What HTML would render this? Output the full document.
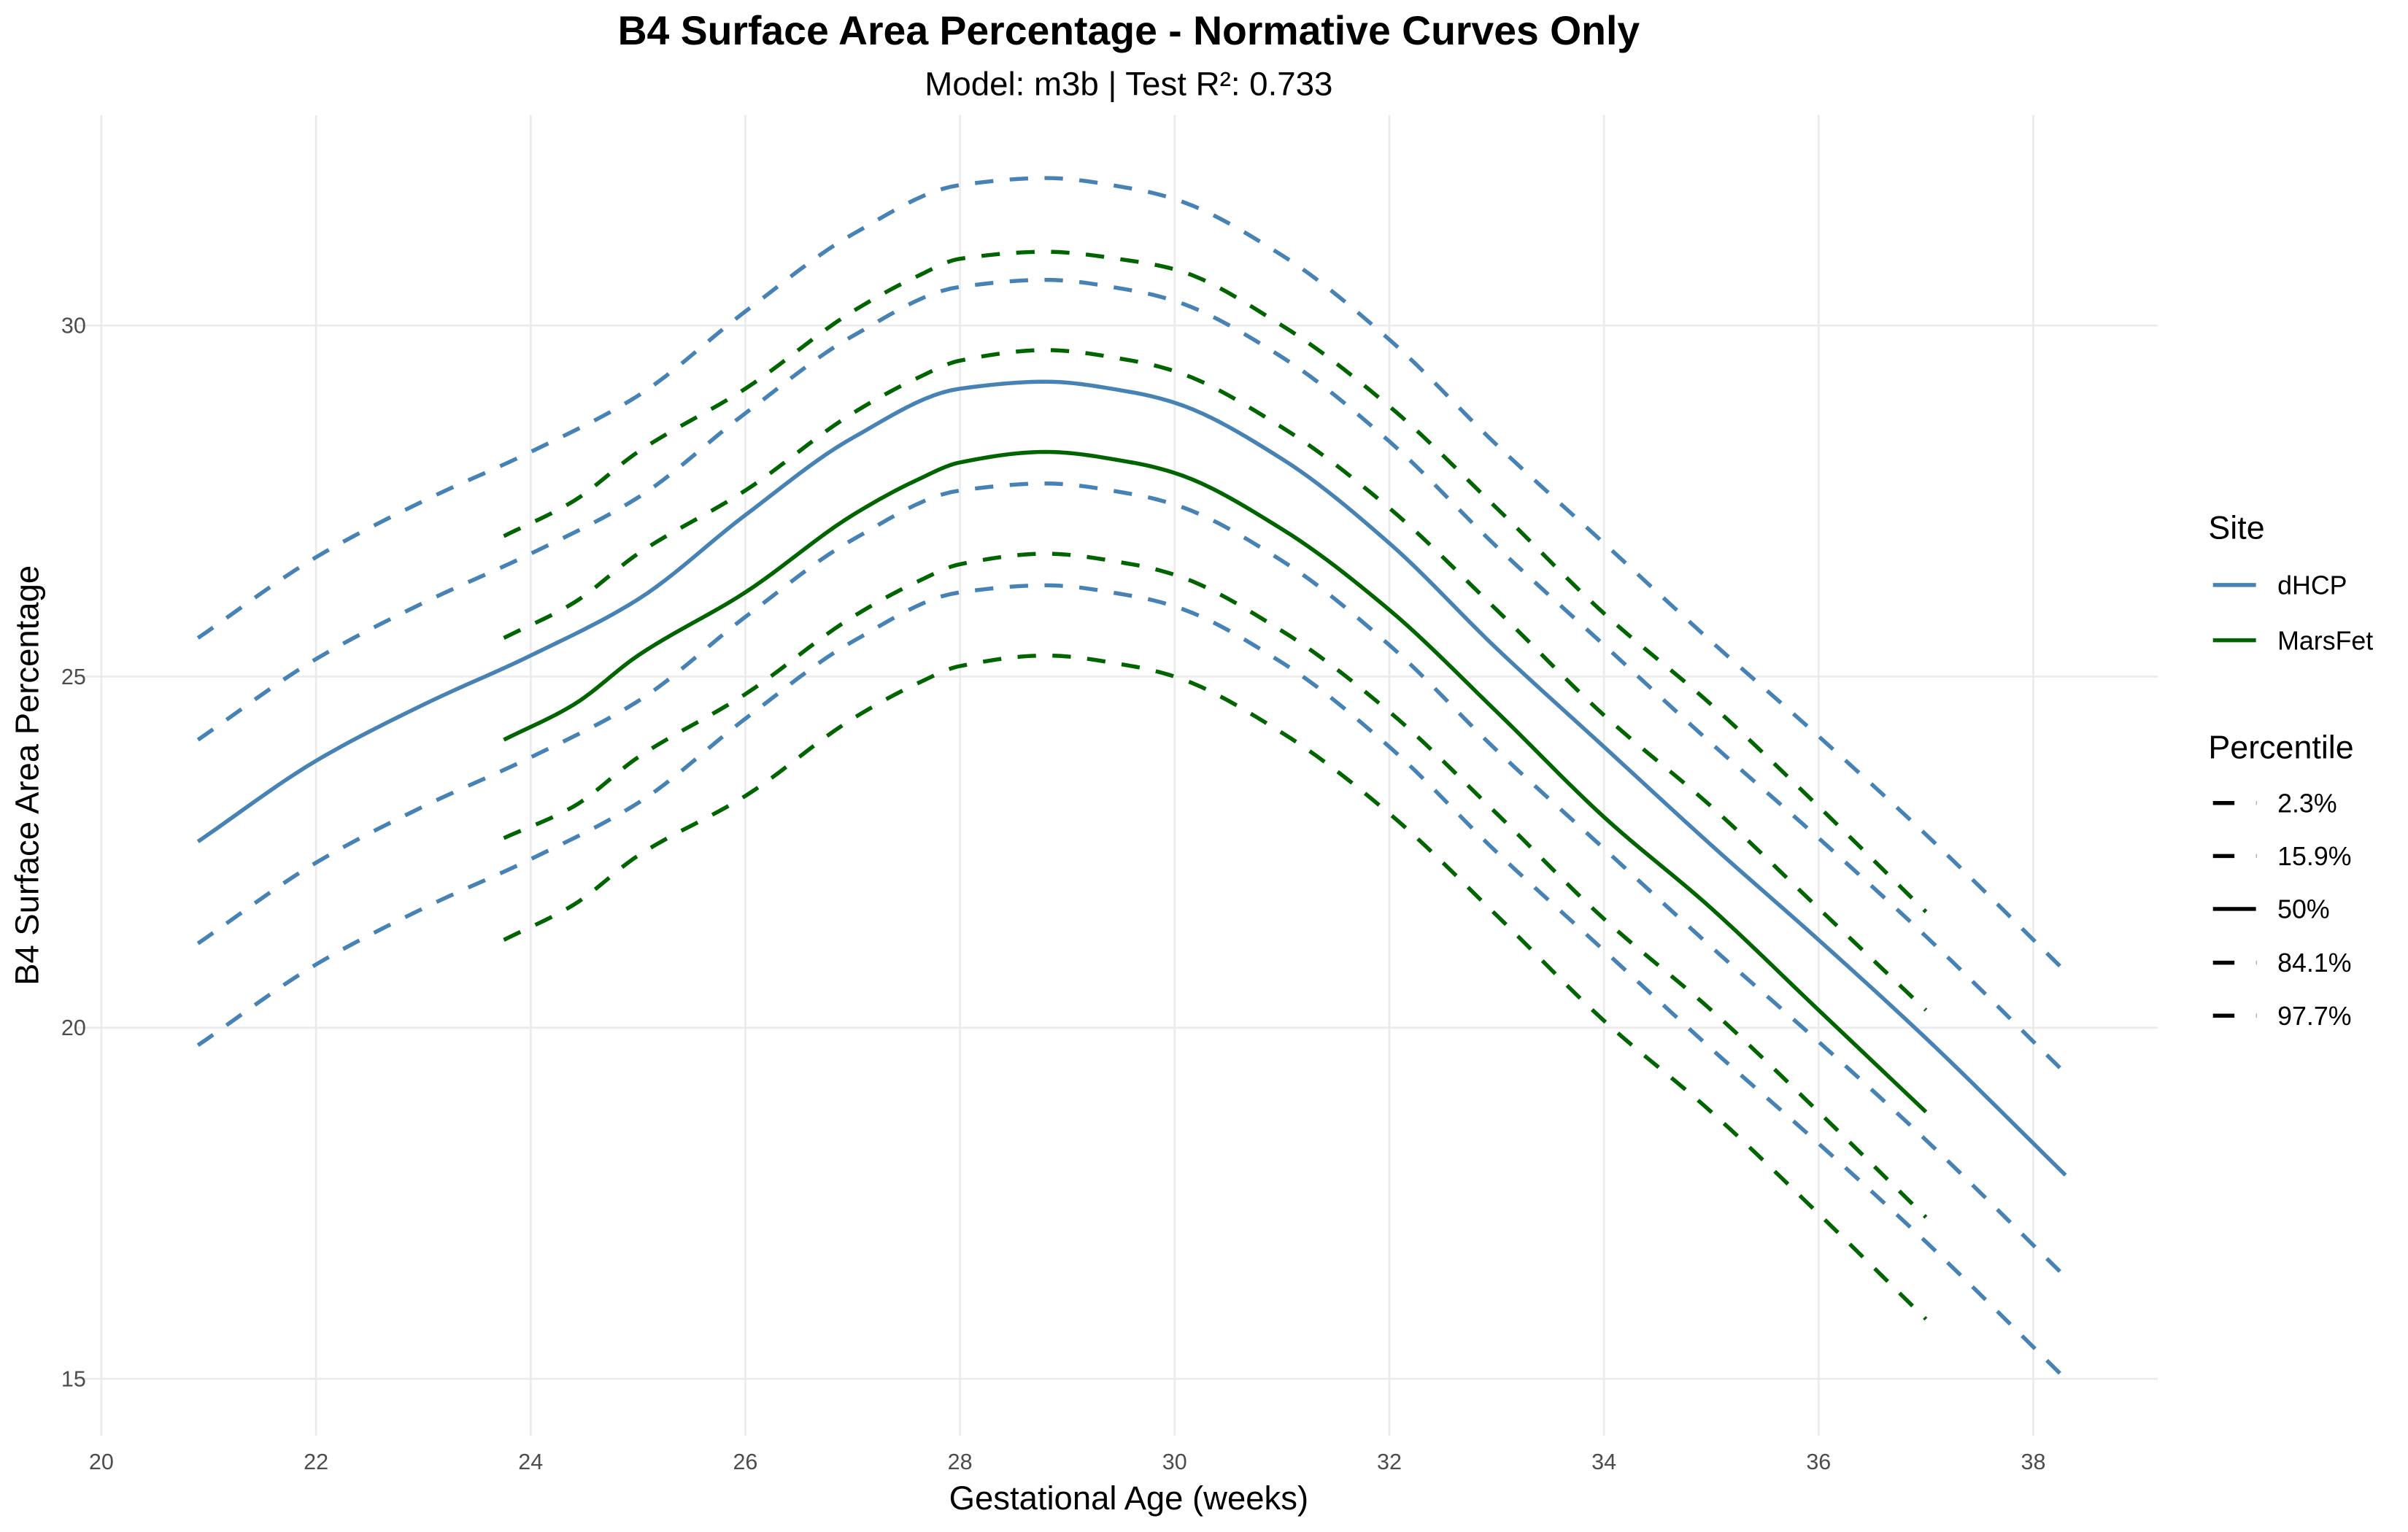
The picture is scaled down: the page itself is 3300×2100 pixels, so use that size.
<!DOCTYPE html>
<html><head><meta charset="utf-8"><style>
html,body{margin:0;padding:0;background:#fff;}
svg{display:block;font-family:"Liberation Sans",sans-serif;}
</style></head><body>
<svg id="chart" width="3300" height="2100" viewBox="0 0 1568 997.8" preserveAspectRatio="none" xmlns="http://www.w3.org/2000/svg">
<rect width="1568" height="997.8" fill="#fff"/>
<g id="grid"></g>
<g id="series"></g>
<g id="axes"></g>
<text x="735" y="29" text-anchor="middle" font-size="26.3" font-weight="bold">B4 Surface Area Percentage - Normative Curves Only</text>
<text x="735" y="62" text-anchor="middle" font-size="21.7">Model: m3b | Test R²: 0.733</text>
<text x="735" y="983" text-anchor="middle" font-size="21.6">Gestational Age (weeks)</text>
<text transform="translate(25,505) rotate(-90)" text-anchor="middle" font-size="21.6">B4 Surface Area Percentage</text>
<g id="legend" font-size="17">
<text x="1438" y="351" font-size="21.3">Site</text>
<g><line x1="1441" x2="1469" y1="381" y2="381" stroke="#4682B4" stroke-width="2.6"/><text x="1483" y="387">dHCP</text></g>
<g><line x1="1441" x2="1469" y1="417" y2="417" stroke="#006400" stroke-width="2.6"/><text x="1483" y="423">MarsFet</text></g>
<text x="1438" y="494" font-size="21.3">Percentile</text>
<g><line x1="1441" x2="1455" y1="523" y2="523" stroke="#000" stroke-width="2.6"/><line x1="1469" x2="1469.6" y1="523" y2="523" stroke="#aaa" stroke-width="2.6"/><text x="1483" y="529">2.3%</text></g>
<g><line x1="1441" x2="1455" y1="557.5" y2="557.5" stroke="#000" stroke-width="2.6"/><line x1="1469" x2="1469.6" y1="557.5" y2="557.5" stroke="#aaa" stroke-width="2.6"/><text x="1483" y="563.5">15.9%</text></g>
<g><line x1="1441" x2="1469" y1="592" y2="592" stroke="#000" stroke-width="2.6"/><text x="1483" y="598">50%</text></g>
<g><line x1="1441" x2="1455" y1="627" y2="627" stroke="#000" stroke-width="2.6"/><line x1="1469" x2="1469.6" y1="627" y2="627" stroke="#aaa" stroke-width="2.6"/><text x="1483" y="633">84.1%</text></g>
<g><line x1="1441" x2="1455" y1="661.5" y2="661.5" stroke="#000" stroke-width="2.6"/><line x1="1469" x2="1469.6" y1="661.5" y2="661.5" stroke="#aaa" stroke-width="2.6"/><text x="1483" y="667.5">97.7%</text></g>
</g>
</svg>
<script>
const xTicks = [20,22,24,26,28,30,32,34,36,38];
const yTicks = [15,20,25,30];
const dhcpAge = [20.9,22,23,24,25,26,27,28,28.8,29.6,30,31,32,33,34,35,36,37,38.3];
const dhcpP50 = [22.65,23.8,24.6,25.3,26.1,27.3,28.4,29.1,29.2,29.05,28.9,28.1,26.9,25.4,24.0,22.6,21.25,19.85,17.9];
const dhcpP841 = [24.1,25.25,26.05,26.75,27.55,28.75,29.85,30.55,30.65,30.5,30.35,29.55,28.35,26.85,25.45,24.05,22.7,21.3,19.35];
const dhcpP977 = [25.55,26.7,27.5,28.2,29.0,30.2,31.3,32.0,32.1,31.95,31.8,31.0,29.8,28.3,26.9,25.5,24.15,22.75,20.8];
const dhcpP159 = [21.2,22.35,23.15,23.85,24.65,25.85,26.95,27.65,27.75,27.6,27.45,26.65,25.45,23.95,22.55,21.15,19.8,18.4,16.45];
const dhcpP23 = [19.75,20.9,21.7,22.4,23.2,24.4,25.5,26.2,26.3,26.15,26.0,25.2,24.0,22.5,21.1,19.7,18.35,16.95,15.0];
const marsAge = [23.75,24.4,25,26,27,27.6,28,28.8,29.6,30,31,32,33,34,35,36,37];
const marsP50 = [24.1,24.6,25.3,26.2,27.3,27.8,28.05,28.2,28.05,27.9,27.1,25.95,24.5,23.0,21.7,20.25,18.8];
const marsP841 = [25.55,26.05,26.75,27.65,28.75,29.25,29.5,29.65,29.5,29.35,28.55,27.4,25.95,24.45,23.15,21.7,20.25];
const marsP977 = [27.0,27.5,28.2,29.1,30.2,30.7,30.95,31.05,30.92,30.8,30.0,28.85,27.4,25.9,24.6,23.15,21.65];
const marsP159 = [22.7,23.15,23.85,24.75,25.85,26.35,26.6,26.75,26.6,26.45,25.65,24.5,23.05,21.55,20.25,18.8,17.3];
const marsP23 = [21.25,21.75,22.45,23.3,24.4,24.9,25.15,25.3,25.15,25.0,24.2,23.05,21.6,20.1,18.8,17.35,15.85];

const NS='http://www.w3.org/2000/svg';
const X0=50, X1=1405, Y0=75, Y1=935;
function xs(v){return 66+(v-20)*(1324-66)/18;}
function ys(v){return 898-(v-15)*(898-212)/15;}
function mk(tag,attrs,parent){const e=document.createElementNS(NS,tag);for(const k in attrs)e.setAttribute(k,attrs[k]);parent.appendChild(e);return e;}
const grid=document.getElementById('grid'), axes=document.getElementById('axes'), series=document.getElementById('series');
xTicks.forEach(t=>{
  const l=mk('line',{x1:xs(t),x2:xs(t),y1:Y0,y2:Y1,stroke:'#ebebeb','stroke-width':1.3},grid);
  
  
  const tx=mk('text',{x:xs(t),y:957,'text-anchor':'middle','font-size':14.5,fill:'#4d4d4d'},axes);
  tx.textContent=t;
  
  
});
yTicks.forEach(t=>{
  const l=mk('line',{x1:X0,x2:X1,y1:ys(t),y2:ys(t),stroke:'#ebebeb','stroke-width':1.3},grid);
  
  
  const tx=mk('text',{x:56,y:ys(t)+5,'text-anchor':'end','font-size':14.5,fill:'#4d4d4d'},axes);
  tx.textContent=t;
  
  
});
function pathD(ax,vals){
  const n=ax.length, d=[], m=new Array(n);
  for(let i=0;i<n-1;i++)d.push((vals[i+1]-vals[i])/(ax[i+1]-ax[i]));
  m[0]=d[0]; m[n-1]=d[n-2];
  for(let i=1;i<n-1;i++){
    if(d[i-1]*d[i]<=0)m[i]=0;
    else{const h0=ax[i]-ax[i-1],h1=ax[i+1]-ax[i];const w1=2*h1+h0,w2=h1+2*h0;m[i]=(w1+w2)/(w1/d[i-1]+w2/d[i]);}
  }
  let s='M'+xs(ax[0])+','+ys(vals[0]);
  for(let i=0;i<n-1;i++){
    const h=ax[i+1]-ax[i];
    for(let k=1;k<=12;k++){
      const t=k/12,t2=t*t,t3=t2*t;
      const v=(2*t3-3*t2+1)*vals[i]+(t3-2*t2+t)*h*m[i]+(-2*t3+3*t2)*vals[i+1]+(t3-t2)*h*m[i+1];
      s+=' L'+xs(ax[i]+t*h).toFixed(2)+','+ys(v).toFixed(2);
    }
  }
  return s;
}
function draw(ax,vals,color,dashed,name){
  const a={d:pathD(ax,vals),fill:'none',stroke:color,'stroke-width':2.6,'stroke-linejoin':'round'};
  if(dashed)a['stroke-dasharray']='12 10.7';
  const e=mk('path',a,series);
  
  
}
const B='#4682B4', G='#006400';
draw(dhcpAge,dhcpP977,B,true,'dhcp-p97-7-line');
draw(dhcpAge,dhcpP841,B,true,'dhcp-p84-1-line');
draw(dhcpAge,dhcpP50,B,false,'dhcp-p50-line');
draw(dhcpAge,dhcpP159,B,true,'dhcp-p15-9-line');
draw(dhcpAge,dhcpP23,B,true,'dhcp-p2-3-line');
draw(marsAge,marsP977,G,true,'marsfet-p97-7-line');
draw(marsAge,marsP841,G,true,'marsfet-p84-1-line');
draw(marsAge,marsP50,G,false,'marsfet-p50-line');
draw(marsAge,marsP159,G,true,'marsfet-p15-9-line');
draw(marsAge,marsP23,G,true,'marsfet-p2-3-line');
</script>
</body></html>
